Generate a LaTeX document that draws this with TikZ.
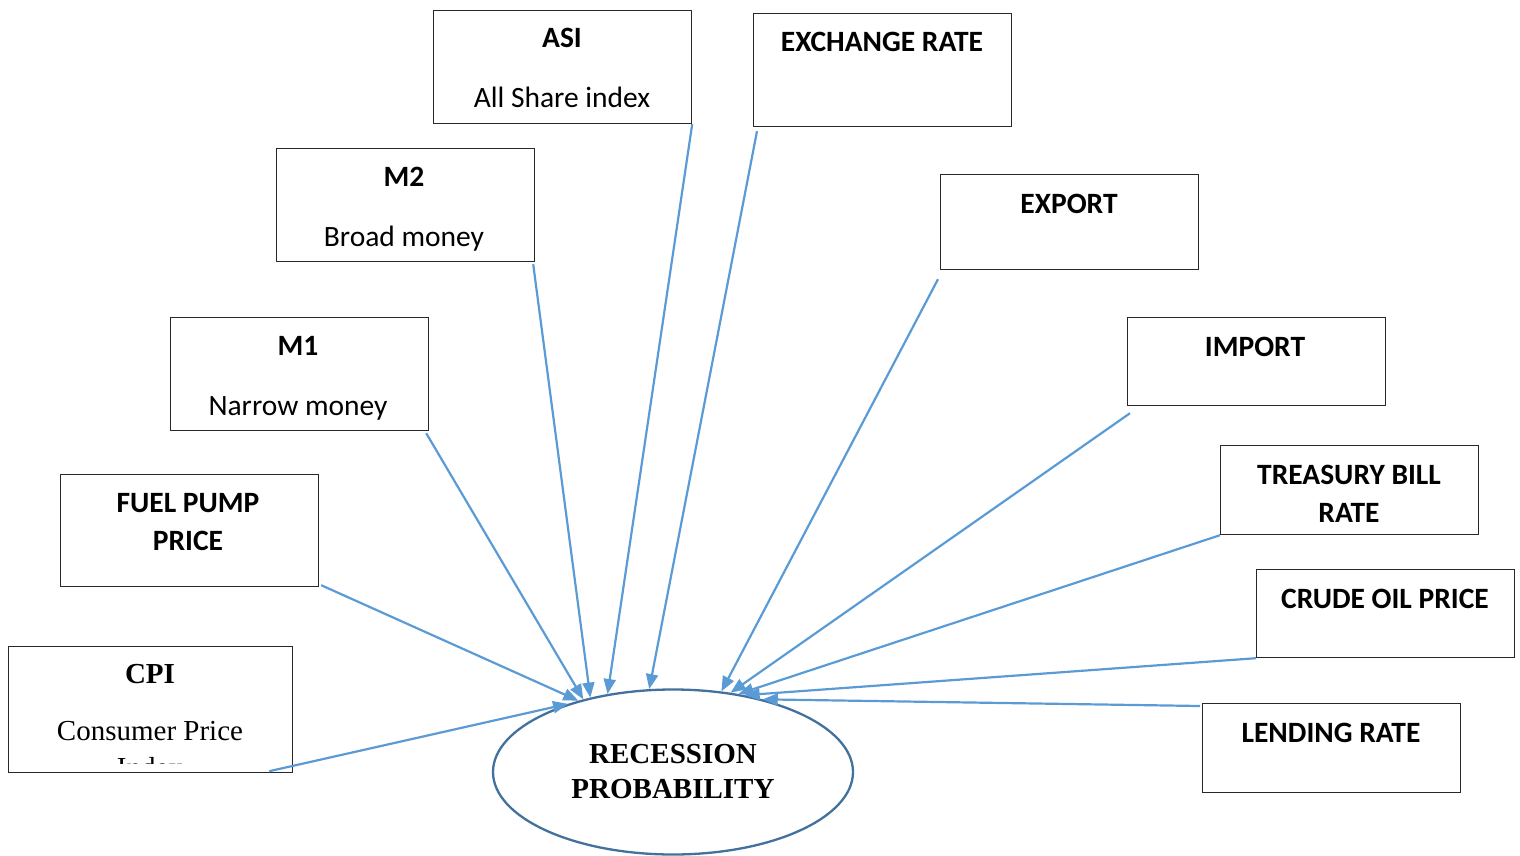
\documentclass[tikz,border=0pt]{standalone}
\usepackage{fontspec}
\setmainfont{Carlito}
\newfontfamily\timesfont{Liberation Serif}
\usetikzlibrary{arrows.meta,shapes.geometric}

\definecolor{linkblue}{RGB}{91,155,213}
\definecolor{ovalblue}{RGB}{65,113,156}
\definecolor{boxline}{RGB}{40,40,40}

\tikzset{
  box/.style={draw=boxline, line width=1.2pt, rectangle, inner sep=0pt,
              minimum width=258pt, anchor=north west},
  txt/.style={inner sep=0pt, anchor=base, font=\fontsize{29.5}{35}\selectfont},
  hd/.style={txt, font=\fontsize{29.5}{35}\selectfont\bfseries},
  sertxt/.style={txt, font=\fontsize{29}{35}\selectfont\timesfont},
  serhd/.style={txt, font=\fontsize{29}{35}\selectfont\timesfont\bfseries},
  link/.style={draw=linkblue, line width=2.2pt, -{Triangle[length=15pt,width=12pt]}},
}

\begin{document}
\begin{tikzpicture}[x=1pt, y=-1pt]
\useasboundingbox (0,0) rectangle (1520,856);

% indicator boxes
\node[box, minimum height=113pt] (asi)   at (433,10)  {};
\node[box, minimum height=113pt] (exch)  at (753,13)  {};
\node[box, minimum height=113pt] (m2)    at (276,148) {};
\node[box, minimum height=95pt]  (expo)  at (940,174) {};
\node[box, minimum height=113pt] (m1)    at (170,317) {};
\node[box, minimum height=88pt]  (impo)  at (1127,317) {};
\node[box, minimum height=89pt]  (tbill) at (1220,445) {};
\node[box, minimum height=112pt] (fuel)  at (60,474)  {};
\node[box, minimum height=88pt]  (crude) at (1256,569) {};
\node[box, minimum height=126pt, minimum width=284pt] (cpi) at (8,646) {};
\node[box, minimum height=89pt]  (lend)  at (1202,703) {};

% box labels
\node[hd]  (asiA)  at (562,48)  {ASI};
\node[txt] (asiB)  at (562,108) {All Share index};
\node[hd]  (exchA) at (882,52)  {EXCHANGE RATE};
\node[hd]  (m2A)   at (404,186) {M2};
\node[txt] (m2B)   at (404,246) {Broad money};
\node[hd]  (expoA) at (1069,213) {EXPORT};
\node[hd]  (m1A)   at (298,355) {M1};
\node[txt] (m1B)   at (298,415) {Narrow money};
\node[hd]  (impoA) at (1255,356) {IMPORT};
\node[hd]  (tbA)   at (1349,484) {TREASURY BILL};
\node[hd]  (tbB)   at (1349,522) {RATE};
\node[hd]  (fuelA) at (188,512) {FUEL PUMP};
\node[hd]  (fuelB) at (188,550) {PRICE};
\node[hd]  (crA)   at (1385,608) {CRUDE OIL PRICE};
\node[hd]  (lendA) at (1331,742) {LENDING RATE};
\node[serhd]  (cpiA) at (150,683) {CPI};
\node[sertxt] (cpiB) at (150,740) {Consumer Price};
% the third line overflows the text frame and is cut off
\begin{scope}
  \clip ([shift={(2,-2)}]cpi.north west) rectangle ([shift={(-2,-10)}]cpi.south east);
  \node[sertxt] (cpiC) at (150,777) {Index};
\end{scope}

% outcome
\node[ellipse, draw=ovalblue, line width=2.3pt, fill=white, inner sep=0pt,
      minimum width=360pt, minimum height=165pt] (rp) at (673,772) {};
\node[serhd] (rpA) at (673,763) {RECESSION};
\node[serhd] (rpB) at (673,798) {PROBABILITY};

% influences
\draw[link] (asi.south east) -- (rp.130);
\draw[link] ([shift={(4,4)}]exch.south west) -- (rp.106);
\draw[link] ([shift={(-2,2)}]m2.south east) -- (rp.138);
\draw[link] ([shift={(-2,9)}]expo.south west) -- (rp.59);
\draw[link] ([shift={(-3,2)}]m1.south east) -- (rp.141);
\draw[link] ([shift={(3,7)}]impo.south west) -- (rp.54);
\draw[link] (tbill.south west) -- (rp.50);
\draw[link] ([shift={(2,-2)}]fuel.south east) -- (rp.143);
\draw[link] (crude.south west) -- (rp.47);
\draw[link] ([shift={(-24,-2)}]cpi.south east) -- (rp.147);
\draw[link] ([shift={(-2,3)}]lend.north west) -- (rp.39);
\end{tikzpicture}
\end{document}
